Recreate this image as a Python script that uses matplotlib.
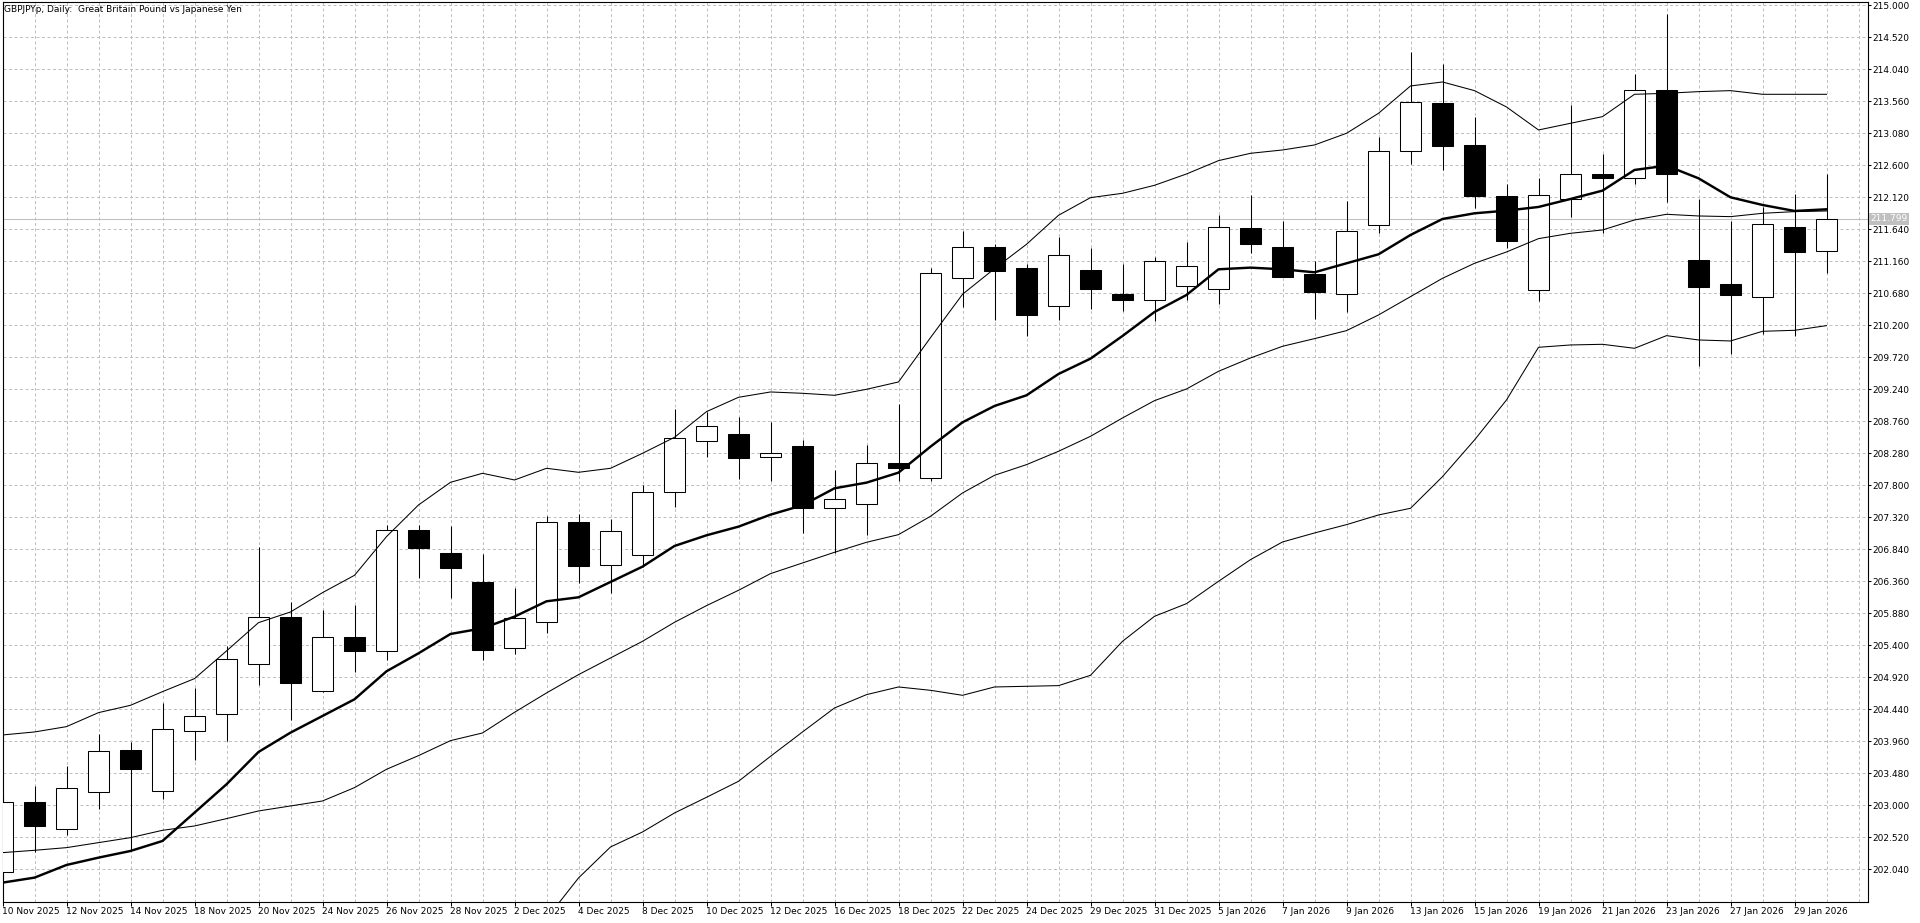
import numpy as np
import matplotlib
matplotlib.use("Agg")
import matplotlib.pyplot as plt

# GBPJPYp daily candles, 10 Nov 2025 .. 30 Jan 2026
dates = ["10 Nov 2025", "11 Nov 2025", "12 Nov 2025", "13 Nov 2025", "14 Nov 2025",
         "17 Nov 2025", "18 Nov 2025", "19 Nov 2025", "20 Nov 2025", "21 Nov 2025",
         "24 Nov 2025", "25 Nov 2025", "26 Nov 2025", "27 Nov 2025", "28 Nov 2025",
         "1 Dec 2025", "2 Dec 2025", "3 Dec 2025", "4 Dec 2025", "5 Dec 2025",
         "8 Dec 2025", "9 Dec 2025", "10 Dec 2025", "11 Dec 2025", "12 Dec 2025",
         "15 Dec 2025", "16 Dec 2025", "17 Dec 2025", "18 Dec 2025", "19 Dec 2025",
         "22 Dec 2025", "23 Dec 2025", "24 Dec 2025", "26 Dec 2025",
         "29 Dec 2025", "30 Dec 2025", "31 Dec 2025", "2 Jan 2026",
         "5 Jan 2026", "6 Jan 2026", "7 Jan 2026", "8 Jan 2026", "9 Jan 2026",
         "12 Jan 2026", "13 Jan 2026", "14 Jan 2026", "15 Jan 2026", "16 Jan 2026",
         "19 Jan 2026", "20 Jan 2026", "21 Jan 2026", "22 Jan 2026", "23 Jan 2026",
         "26 Jan 2026", "27 Jan 2026", "28 Jan 2026", "29 Jan 2026", "30 Jan 2026"]

opens = [202.005, 203.055, 202.65, 203.205, 203.835, 203.22, 204.12, 204.375, 205.125, 205.83,
         204.72, 205.53, 205.315, 207.13, 206.785, 206.35, 205.355, 205.755, 207.245, 206.60,
         206.75, 207.695, 208.46, 208.565, 208.22, 208.395, 207.465, 207.525, 208.14, 207.915,
         210.915, 211.38, 211.055, 210.485, 211.025, 210.665, 210.585, 210.795, 210.74, 211.655,
         211.37, 210.97, 210.665, 211.70, 212.81, 213.53, 212.90, 212.135, 210.73, 212.095,
         212.465, 212.405, 213.73, 211.18, 210.82, 210.625, 211.675, 211.315]
highs = [203.15, 203.285, 203.585, 204.075, 203.945, 204.53, 204.755, 205.39, 206.88, 206.05,
         205.925, 206.0, 207.205, 207.205, 207.195, 206.77, 206.26, 207.34, 207.37, 207.295,
         207.805, 208.945, 208.905, 208.825, 208.755, 208.475, 208.025, 208.41, 209.025, 211.065,
         211.61, 211.415, 211.125, 211.525, 211.365, 211.115, 211.22, 211.45, 211.855, 212.155,
         211.77, 211.165, 212.065, 213.025, 214.30, 214.12, 213.33, 212.32, 212.405, 213.505,
         212.77, 213.97, 214.87, 212.095, 211.77, 211.98, 212.17, 212.47]
lows = [201.9, 202.305, 202.55, 202.95, 202.315, 203.095, 203.68, 203.97, 204.805, 204.28,
        204.70, 205.0, 205.18, 206.405, 206.105, 205.18, 205.27, 205.58, 206.34, 206.18,
        206.58, 207.48, 208.23, 207.89, 207.86, 207.085, 206.785, 207.05, 207.865, 207.865,
        210.475, 210.275, 210.04, 210.275, 210.445, 210.415, 210.26, 210.58, 210.515, 211.29,
        210.92, 210.30, 210.405, 211.58, 212.625, 212.53, 211.955, 211.355, 210.57, 211.83,
        211.58, 212.315, 212.055, 209.595, 209.77, 210.07, 210.04, 210.98]
closes = [203.055, 202.69, 203.265, 203.82, 203.545, 204.15, 204.345, 205.2, 205.83, 204.835,
          205.53, 205.315, 207.13, 206.865, 206.565, 205.335, 205.805, 207.245, 206.595, 207.11,
          207.695, 208.505, 208.685, 208.215, 208.28, 207.465, 207.60, 208.14, 208.065, 210.99,
          211.38, 211.015, 210.355, 211.26, 210.75, 210.585, 211.165, 211.095, 211.67, 211.425,
          210.93, 210.705, 211.61, 212.81, 213.545, 212.895, 212.145, 211.47, 212.15, 212.465,
          212.405, 213.73, 212.465, 210.77, 210.65, 211.715, 211.305, 211.799]

# thick moving average
ma_fast = [201.84, 201.915, 202.105, 202.215, 202.315, 202.465, 202.89, 203.315, 203.80, 204.09,
           204.34, 204.59, 205.01, 205.28, 205.57, 205.655, 205.83, 206.06, 206.12, 206.35,
           206.58, 206.89, 207.05, 207.18, 207.36, 207.5, 207.755, 207.84, 207.99, 208.38,
           208.745, 208.99, 209.15, 209.47, 209.70, 210.04, 210.4, 210.655, 211.04, 211.065,
           211.04, 210.995, 211.13, 211.265, 211.555, 211.795, 211.88, 211.92, 211.975, 212.095,
           212.22, 212.53, 212.595, 212.405, 212.12, 212.005, 211.915, 211.94]

# Bollinger bands
bb_upper = [204.055, 204.10, 204.18, 204.39, 204.50, 204.705, 204.90, 205.315, 205.74, 205.90,
            206.19, 206.45, 207.03, 207.505, 207.845, 207.98, 207.88, 208.055, 207.995, 208.055,
            208.28, 208.52, 208.905, 209.12, 209.2, 209.18, 209.15, 209.24, 209.35, 210.015,
            210.665, 211.05, 211.415, 211.85, 212.115, 212.18, 212.3, 212.47, 212.67, 212.78,
            212.83, 212.905, 213.08, 213.38, 213.79, 213.85, 213.72, 213.475, 213.13, 213.23,
            213.33, 213.665, 213.68, 213.705, 213.72, 213.665, 213.665, 213.665]
bb_middle = [202.29, 202.325, 202.365, 202.44, 202.515, 202.625, 202.69, 202.80, 202.915, 202.99,
             203.065, 203.265, 203.54, 203.745, 203.97, 204.085, 204.395, 204.685, 204.96, 205.21,
             205.46, 205.745, 205.995, 206.225, 206.475, 206.635, 206.795, 206.945, 207.06, 207.335,
             207.685, 207.95, 208.11, 208.31, 208.535, 208.81, 209.07, 209.245, 209.51, 209.71,
             209.885, 210.0, 210.12, 210.355, 210.63, 210.905, 211.13, 211.3, 211.5, 211.58,
             211.63, 211.78, 211.865, 211.84, 211.83, 211.88, 211.905, 211.915]
bb_lower = [np.nan] * 17 + [
            201.3, 201.91, 202.375,
            202.60, 202.885, 203.12, 203.36, 203.735, 204.10, 204.46, 204.66, 204.775, 204.725,
            204.65, 204.775, 204.785, 204.795, 204.95, 205.46, 205.835, 206.025, 206.36, 206.685,
            206.95, 207.085, 207.21, 207.355, 207.455, 207.93, 208.48, 209.08, 209.87, 209.905,
            209.915, 209.855, 210.045, 209.98, 209.965, 210.11, 210.125, 210.195]

last_price = 211.799
price_ticks = [202.04 + 0.48 * k for k in range(28)]

W, H = 1920, 923
fig = plt.figure(figsize=(W / 100, H / 100), dpi=100)
fig.patch.set_facecolor("white")
ax = fig.add_axes([2.5 / W, (H - 902) / H, 1865 / W, 899.7 / H])
ax.set_facecolor("white")

n = len(opens)
x = np.arange(n)
o = np.array(opens); c = np.array(closes)
up = c >= o

# wicks then bodies
ax.vlines(x, lows, highs, color="black", lw=0.75, zorder=3)
body_lo = np.minimum(o, c)
body_h = np.maximum(np.abs(c - o), 0.01)
ax.bar(x[up], body_h[up], bottom=body_lo[up], width=0.67, color="white",
       edgecolor="black", linewidth=0.75, zorder=4)
ax.bar(x[~up], body_h[~up], bottom=body_lo[~up], width=0.67, color="black",
       edgecolor="black", linewidth=0.75, zorder=4)

# indicator lines
for band in (bb_upper, bb_middle, bb_lower):
    ax.plot(x, band, color="black", lw=0.75, zorder=5)
ax.plot(x, ma_fast, color="black", lw=1.75, zorder=6, solid_joinstyle="round")

# bid line
ax.axhline(last_price, color="#c0c0c0", lw=0.75, zorder=2)

ax.set_xlim(0, 1865 / 32)
ax.set_ylim(201.5495, 215.045)

# grid
grid_kw = dict(color="#c0c0c0", lw=0.72, dashes=(3, 2.5), zorder=1)
for p in price_ticks:
    ax.axhline(p, **grid_kw)
for i in range(1, n + 1):
    ax.axvline(i, **grid_kw)

# axes / ticks
ax.yaxis.tick_right()
ax.set_yticks(price_ticks)
ax.set_yticklabels([f"{p:.3f}" for p in price_ticks])
ax.set_xticks(x[::2])
ax.set_xticklabels([dates[i] for i in x[::2]], ha="left")
ax.tick_params(axis="y", direction="out", length=2.5, width=0.75, pad=0.8,
               labelsize=6.5, colors="black")
ax.tick_params(axis="x", direction="out", length=3, width=0.75, pad=0.8,
               labelsize=6.5, colors="black")
for s in ax.spines.values():
    s.set_linewidth(0.8)
    s.set_color("black")

# current price label on the axis
ax.text(1.0016, last_price, f"{last_price:.3f}", transform=ax.get_yaxis_transform(),
        ha="left", va="center", fontsize=6.5, color="white",
        bbox=dict(boxstyle="square,pad=0.15", facecolor="#c0c0c0", edgecolor="none"),
        zorder=10, clip_on=False)

fig.text(4 / W, 1 - 10 / H, "GBPJPYp, Daily:  Great Britain Pound vs Japanese Yen",
         ha="left", va="center", fontsize=6.5, color="black")

fig.savefig("out.png", dpi=100, facecolor="white")
